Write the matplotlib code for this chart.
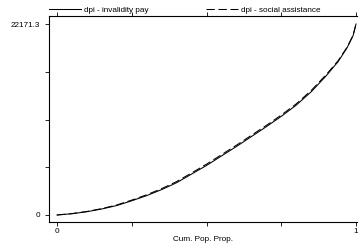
import matplotlib
matplotlib.use("Agg")
import matplotlib.pyplot as plt

# cumulative population share (x) and generalized Lorenz ordinates
pop_prop = [0, 0.05, 0.1, 0.15, 0.2, 0.25, 0.3, 0.35, 0.4, 0.45, 0.5, 0.55,
            0.6, 0.65, 0.7, 0.75, 0.8, 0.85, 0.9, 0.94, 0.97, 0.99, 1]
invalidity = [0, 150, 380, 700, 1100, 1650, 2250, 2950, 3750, 4750, 5750, 6850,
              7950, 9100, 10250, 11450, 12750, 14300, 16150, 17800, 19400, 20800, 22171.3]
social = [0, 165, 410, 745, 1165, 1730, 2350, 3060, 3880, 4880, 5900, 7000,
          8100, 9250, 10400, 11600, 12900, 14450, 16280, 17900, 19480, 20850, 22171.3]

ymax = 22171.3
xticks = [0, 0.25, 0.5, 0.75, 1]
xlabels = ["0", "", "", "", "1"]
yticks = [0, ymax / 4, ymax / 2, ymax * 3 / 4, ymax]
ylabels = ["0", "", "", "", "22171.3"]

plt.rcParams["font.family"] = ["Liberation Sans", "DejaVu Sans"]
fs = 5.9

fig = plt.figure(figsize=(3.63, 2.5), dpi=100)
ax = fig.add_axes([49 / 363, 28 / 250, 308 / 363, 206 / 250])

ax.plot(pop_prop, invalidity, color="black", lw=0.75, label="dpi - invalidity pay")
ax.plot(pop_prop, social, color="black", lw=0.75, dashes=(8, 3.5),
        label="dpi - social assistance")

ax.set_xlim(-0.0268, 1.0033)
ax.set_ylim(-812.6, 23100)

ax.set_xticks(xticks)
ax.set_xticklabels(xlabels)
ax.set_yticks(yticks)
ax.set_yticklabels(ylabels)
ax.tick_params(axis="both", direction="out", length=3, width=0.6,
               labelsize=fs, color="black")
ax.tick_params(axis="x", top=True, labeltop=False, pad=1.2)
ax.tick_params(axis="y", pad=3.5)

ax.spines["right"].set_visible(False)
for s in ["left", "bottom", "top"]:
    ax.spines[s].set_linewidth(0.8)
    ax.spines[s].set_color("black")

ax.set_xlabel("Cum. Pop. Prop.", fontsize=fs, labelpad=0.5)

ax.legend(ncol=2, loc="lower left", bbox_to_anchor=(0.0, 1.0 + 2 / 206), borderaxespad=0.0,
          frameon=False, fontsize=fs, handlelength=3.95, handletextpad=0.37,
          columnspacing=6.9, borderpad=0)

fig.savefig("out.png", dpi=100)
